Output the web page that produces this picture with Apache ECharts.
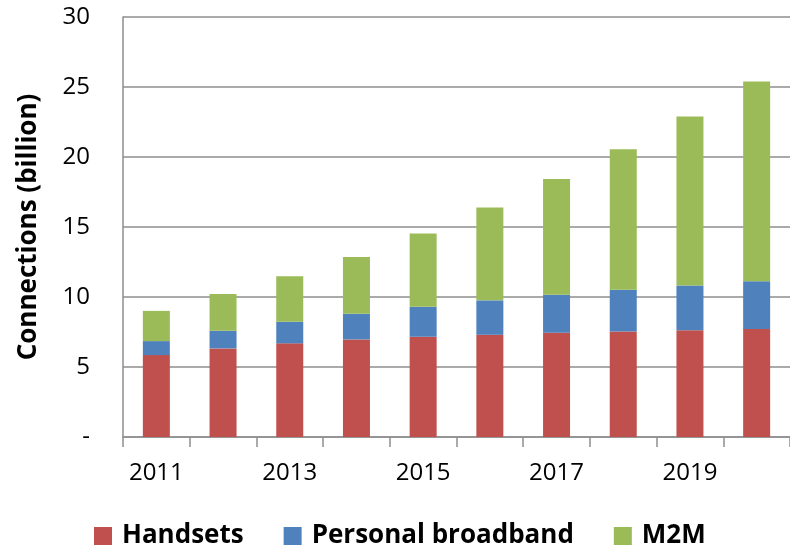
<!DOCTYPE html>
<html>
<head>
<meta charset="utf-8">
<script src="https://cdn.jsdelivr.net/npm/echarts@6/dist/echarts.min.js"></script>
<style>html,body{margin:0;padding:0;background:#fff}#c{width:790px;height:549px}</style>
</head>
<body>
<div id="c"></div>
<script>
const years = ['2011','2012','2013','2014','2015','2016','2017','2018','2019','2020'];
const handsets = [5.85, 6.33, 6.69, 6.97, 7.16, 7.30, 7.44, 7.54, 7.62, 7.71];
const personalBroadband = [1.00, 1.26, 1.54, 1.83, 2.14, 2.46, 2.72, 2.97, 3.21, 3.42];
const m2m = [2.16, 2.62, 3.26, 4.05, 5.24, 6.63, 8.26, 10.05, 12.06, 14.26];
const yTicks = [0, 5, 10, 15, 20, 25, 30];

const chart = echarts.init(document.getElementById('c'), null, {renderer: 'canvas'});
const font = '"Open Sans", "DejaVu Sans", sans-serif';
const mk = (name, data, color) => ({
  name, type: 'bar', stack: 'total', data, barWidth: 27,
  itemStyle: {color}, emphasis: {disabled: true}
});
chart.setOption({
  animation: false,
  grid: {left: 123, top: 17, width: 669, bottom: 112, containLabel: false},
  legend: {
    left: 94, top: 523, padding: 0, itemWidth: 18, itemHeight: 18, itemGap: 40, icon: 'rect',
    textStyle: {fontFamily: font, fontWeight: 'bold', fontSize: 26, color: '#000', padding: [0,0,0,5]},
    data: ['Handsets', 'Personal broadband', 'M2M']
  },
  xAxis: {
    type: 'category', data: years,
    axisLine: {lineStyle: {color: '#8e8e8e', width: 1.5}},
    axisTick: {show: true, interval: 0, length: 10, lineStyle: {color: '#8e8e8e', width: 1.5}},
    axisLabel: {interval: 1, margin: 24, fontFamily: font, fontSize: 24, color: '#000'}
  },
  yAxis: {
    type: 'value', min: 0, max: 30, interval: 5,
    name: 'Connections (billion)', nameLocation: 'middle', nameGap: 81, nameRotate: 90,
    nameTextStyle: {fontFamily: font, fontWeight: 'bold', fontSize: 26, color: '#000'},
    axisLine: {show: true, lineStyle: {color: '#8e8e8e', width: 1.5}},
    axisTick: {show: false},
    splitLine: {lineStyle: {color: '#8e8e8e', width: 1.5}},
    axisLabel: {margin: 33, fontFamily: font, fontSize: 24, color: '#000',
      formatter: v => (yTicks.includes(v) ? (v === 0 ? '-' : String(v)) : '')}
  },
  series: [
    mk('Handsets', handsets, '#C0504D'),
    mk('Personal broadband', personalBroadband, '#4F81BD'),
    mk('M2M', m2m, '#9BBB59')
  ]
});
</script>
</body>
</html>
